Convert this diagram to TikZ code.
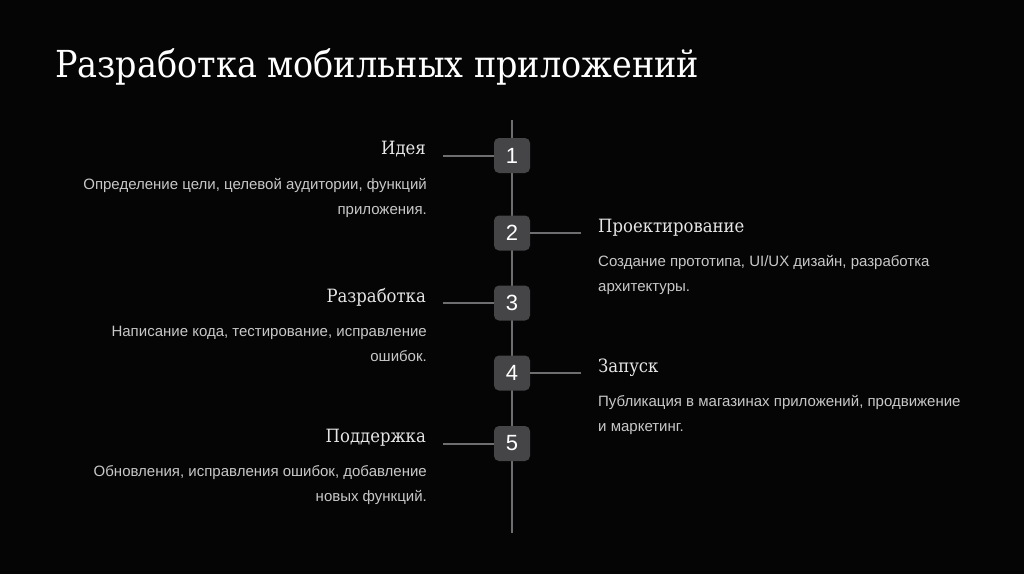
\documentclass[tikz,border=0pt]{standalone}
\usepackage{fontspec}
\setmainfont{Liberation Serif}
\setsansfont{Liberation Sans}
\newfontfamily\titlefont{DejaVu Serif Condensed}
\definecolor{bgcol}{HTML}{050505}
\definecolor{stepfill}{HTML}{454548}
\definecolor{linecol}{HTML}{6E6E70}
\definecolor{desccol}{HTML}{C8C8C8}
\definecolor{headcol}{HTML}{E6E6E6}

\begin{document}
\begin{tikzpicture}[x=1pt,y=-1pt]
\tikzset{
  stepbox/.style={rounded corners=5pt,fill=stepfill,minimum width=36pt,minimum height=35pt,inner sep=0pt,text=white,font=\sffamily\fontsize{22}{22}\selectfont},
  heading/.style={inner sep=0pt,text=headcol,font=\titlefont\fontsize{18.3}{18.3}\selectfont},
  desc/.style={inner sep=0pt,text=desccol,font=\sffamily\fontsize{15}{25}\selectfont},
  timeline/.style={draw=linecol,line width=2pt}
}
\fill[bgcol] (0,0) rectangle (1024,574);
\useasboundingbox (0,0) rectangle (1024,574);
\node[anchor=base west,inner sep=0pt,text=white,font=\titlefont\fontsize{37.2}{37.2}\selectfont] (n_title) at (55,77) {Разработка мобильных приложений};
% timeline
\coordinate (n_top) at (512,120);
\coordinate (n_bottom) at (512,533);
\draw[timeline] (n_top) -- (n_bottom);
\node[stepbox] (n_s1) at (512,155.5) {1};
\node[stepbox] (n_s2) at (512,233) {2};
\node[stepbox] (n_s3) at (512,303) {3};
\node[stepbox] (n_s4) at (512,373) {4};
\node[stepbox] (n_s5) at (512,443.5) {5};
% side ticks
\coordinate (n_t1) at (443,155.5);
\coordinate (n_t2) at (581,233);
\coordinate (n_t3) at (443,303);
\coordinate (n_t4) at (581,373);
\coordinate (n_t5) at (443,443.5);
\draw[timeline] (n_t1) -- (n_s1);
\draw[timeline] (n_s2) -- (n_t2);
\draw[timeline] (n_t3) -- (n_s3);
\draw[timeline] (n_s4) -- (n_t4);
\draw[timeline] (n_t5) -- (n_s5);
% headings
\node[heading,anchor=base east] (n_h1) at (426,154.5) {Идея};
\node[heading,anchor=base west] (n_h2) at (598,232) {Проектирование};
\node[heading,anchor=base east] (n_h3) at (426,302) {Разработка};
\node[heading,anchor=base west] (n_h4) at (598,372) {Запуск};
\node[heading,anchor=base east] (n_h5) at (426,442.5) {Поддержка};
% descriptions
\node[desc,anchor=north east,align=right] (n_d1) at (427,178) {Определение цели, целевой аудитории, функций\\приложения.};
\node[desc,anchor=north west,align=left] (n_d2) at (598,255.5) {Создание прототипа, UI/UX дизайн, разработка\\архитектуры.};
\node[desc,anchor=north east,align=right] (n_d3) at (427,325.5) {Написание кода, тестирование, исправление\\ошибок.};
\node[desc,anchor=north west,align=left] (n_d4) at (598,395.5) {Публикация в магазинах приложений, продвижение\\и маркетинг.};
\node[desc,anchor=north east,align=right] (n_d5) at (427,465.5) {Обновления, исправления ошибок, добавление\\новых функций.};
\end{tikzpicture}
\end{document}
